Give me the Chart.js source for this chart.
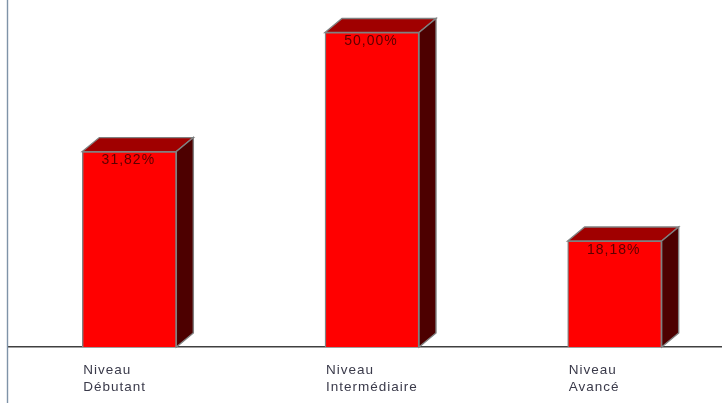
<!DOCTYPE html>
<html>
<head>
<meta charset="utf-8">
<script src="https://cdn.jsdelivr.net/npm/chart.js@4"></script>
<style>
    html, body { margin: 0; padding: 0; background: #fff; overflow: hidden; width: 722px; height: 403px; }
    #wrap { position: relative; width: 736px; height: 403px; }
    canvas { filter: blur(0.45px); }
</style>
</head>
<body>
<div id="wrap"><canvas id="chart"></canvas></div>
<script>
const categories = [['Niveau', 'Débutant'], ['Niveau', 'Intermédiaire'], ['Niveau', 'Avancé']];
const percentages = [31.82, 50.00, 18.18];
const axisMin = 2;
const axisMax = 54.95;

// Fake 3D look: side and top faces follow each bar from the library
const depthPlugin = {
    id: 'depthFaces',
    beforeDraw: function (chart) {
        chart.ctx.letterSpacing = '1px';
    },
    beforeDatasetsDraw: function (chart) {
        const ctx = chart.ctx;
        const dx = 17, dy = 14;
        const base = chart.chartArea.bottom;
        ctx.save();
        ctx.strokeStyle = '#808080';
        ctx.lineWidth = 1.4;
        chart.getDatasetMeta(0).data.forEach(function (bar) {
            const left = bar.x - bar.width / 2;
            const right = bar.x + bar.width / 2;

            ctx.beginPath();
            ctx.moveTo(left, bar.y);
            ctx.lineTo(left + dx, bar.y - dy);
            ctx.lineTo(right + dx, bar.y - dy);
            ctx.lineTo(right, bar.y);
            ctx.closePath();
            ctx.fillStyle = '#a00000';
            ctx.fill();
            ctx.stroke();

            ctx.beginPath();
            ctx.moveTo(right, bar.y);
            ctx.lineTo(right + dx, bar.y - dy);
            ctx.lineTo(right + dx, base - dy);
            ctx.lineTo(right, base);
            ctx.closePath();
            ctx.fillStyle = '#4d0000';
            ctx.fill();
            ctx.stroke();
        });
        ctx.restore();
    },
    afterDraw: function (chart) {
        const ctx = chart.ctx;
        ctx.save();

        // Value labels inside the top of each bar
        ctx.fillStyle = '#5c0000';
        ctx.font = '14px "Liberation Sans"';
        ctx.textAlign = 'center';
        ctx.textBaseline = 'middle';
        chart.getDatasetMeta(0).data.forEach(function (bar, i) {
            const text = percentages[i].toFixed(2).replace('.', ',') + '%';
            ctx.fillText(text, bar.x - 1, bar.y + 9);
        });

        // Vertical axis runs past the baseline to the bottom of the page
        ctx.beginPath();
        ctx.strokeStyle = '#7f93a8';
        ctx.lineWidth = 1.4;
        ctx.moveTo(chart.chartArea.left - 0.5, 0);
        ctx.lineTo(chart.chartArea.left - 0.5, chart.height);
        ctx.stroke();
        ctx.restore();
    }
};

new Chart(document.getElementById('chart'), {
    type: 'bar',
    data: {
        labels: categories,
        datasets: [{
            data: percentages,
            backgroundColor: '#ff0000',
            borderColor: '#808080',
            borderWidth: 1.4,
            barThickness: 94
        }]
    },
    options: {
        responsive: true,
        maintainAspectRatio: false,
        animation: false,
        layout: {
            padding: { left: 8, right: 0, top: 0, bottom: 0 }
        },
        plugins: {
            legend: { display: false },
            tooltip: { enabled: false }
        },
        scales: {
            x: {
                grid: { display: false, drawTicks: false },
                border: { color: '#404040', width: 1.4 },
                afterFit: function (scale) {
                    scale.height = 56;
                },
                ticks: {
                    align: 'start',
                    labelOffset: -46,
                    padding: 15,
                    maxRotation: 0,
                    color: '#3a3a4a',
                    font: { family: '"Liberation Sans"', size: 13.5, lineHeight: 1.26 }
                }
            },
            y: {
                display: false,
                min: axisMin,
                max: axisMax
            }
        }
    },
    plugins: [depthPlugin]
});
</script>
</body>
</html>
